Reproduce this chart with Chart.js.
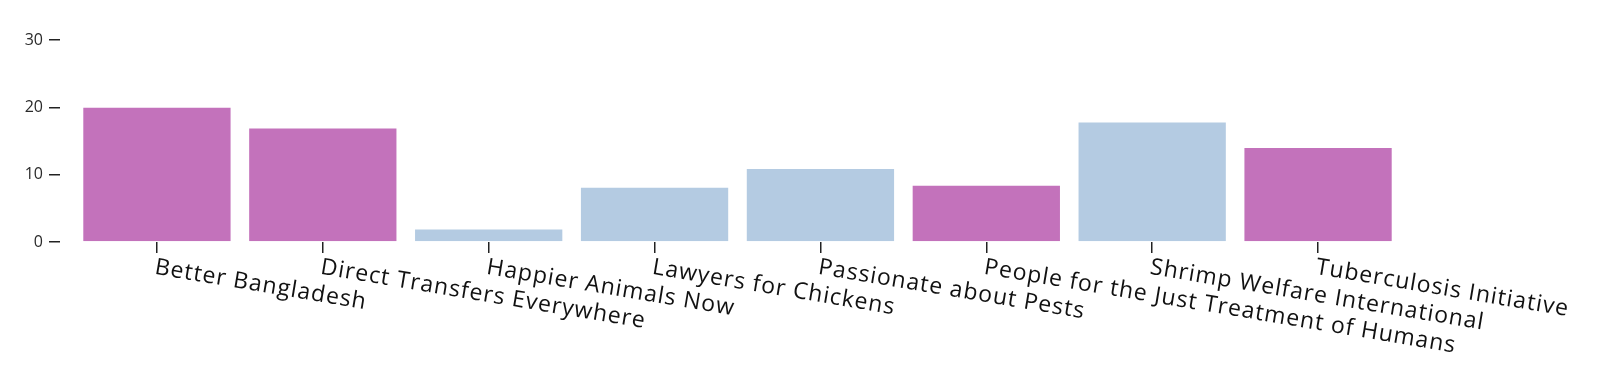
<!DOCTYPE html>
<html>
<head>
<meta charset="utf-8">
<script src="https://cdn.jsdelivr.net/npm/chart.js@4/dist/chart.umd.min.js"></script>
<style>
  html, body { margin: 0; padding: 0; background: #fff; }
  #wrap { width: 1600px; height: 371px; }
</style>
</head>
<body>
<div id="wrap"><canvas id="chart"></canvas></div>
<script>
const categories = [
    'Better Bangladesh',
    'Direct Transfers Everywhere',
    'Happier Animals Now',
    'Lawyers for Chickens',
    'Passionate about Pests',
    'People for the Just Treatment of Humans',
    'Shrimp Welfare International',
    'Tuberculosis Initiative'
]
const values = [20.1, 17.0, 2.0, 8.2, 11.0, 8.5, 17.9, 14.1]
// 1 = pink group, 0 = blue group
const groups = [1, 1, 0, 0, 0, 1, 0, 1]
const yTicks = [0, 10, 20, 30]

const PINK = '#c372bb'
const BLUE = '#b4cbe2'

// x labels run down to the right from the tick, which chart.js can't align itself
const slantedLabels = {
    id: 'slantedLabels',
    afterDraw(chart) {
        const { ctx } = chart
        const x = chart.scales.x
        ctx.save()
        ctx.font = '23px "Open Sans"'
        ctx.letterSpacing = '1px'
        ctx.fillStyle = '#111'
        ctx.textAlign = 'left'
        ctx.textBaseline = 'top'
        categories.forEach((label, i) => {
            ctx.save()
            ctx.translate(x.getPixelForValue(i), x.top + 14)
            ctx.rotate(9.5 * Math.PI / 180)
            ctx.fillText(label, 0, 0)
            ctx.restore()
        })
        ctx.restore()
    }
}

new Chart(document.getElementById('chart'), {
    type: 'bar',
    data: {
        labels: categories,
        datasets: [{
            data: values,
            backgroundColor: groups.map(g => g ? PINK : BLUE),
            borderColor: 'rgba(255, 255, 255, 0.45)',
            borderWidth: 1,
            categoryPercentage: 1,
            barPercentage: 0.9
        }]
    },
    options: {
        responsive: true,
        maintainAspectRatio: false,
        animation: false,
        layout: { padding: { top: 40, right: 199, bottom: 118, left: 0 } },
        plugins: {
            legend: { display: false },
            tooltip: { enabled: false }
        },
        scales: {
            x: {
                ticks: { display: false },
                border: { display: false },
                grid: { offset: false, drawOnChartArea: false, tickLength: 11, color: '#222', lineWidth: 1.5 }
            },
            y: {
                min: 0,
                max: 30,
                weight: 1,
                afterBuildTicks: s => { s.ticks = yTicks.map(v => ({ value: v })) },
                afterFit: s => { s.width = 60 },
                ticks: { padding: 6, color: '#2a2a2a', font: { family: 'Open Sans', size: 16 } },
                border: { display: false },
                grid: { drawOnChartArea: false, tickLength: 11, color: '#222', lineWidth: 1.5 }
            },
            gap: {
                type: 'linear',
                position: 'left',
                weight: 0,
                afterFit: s => { s.width = 14 },
                ticks: { display: false },
                border: { display: false },
                grid: { display: false }
            }
        }
    },
    plugins: [slantedLabels]
})
</script>
</body>
</html>
